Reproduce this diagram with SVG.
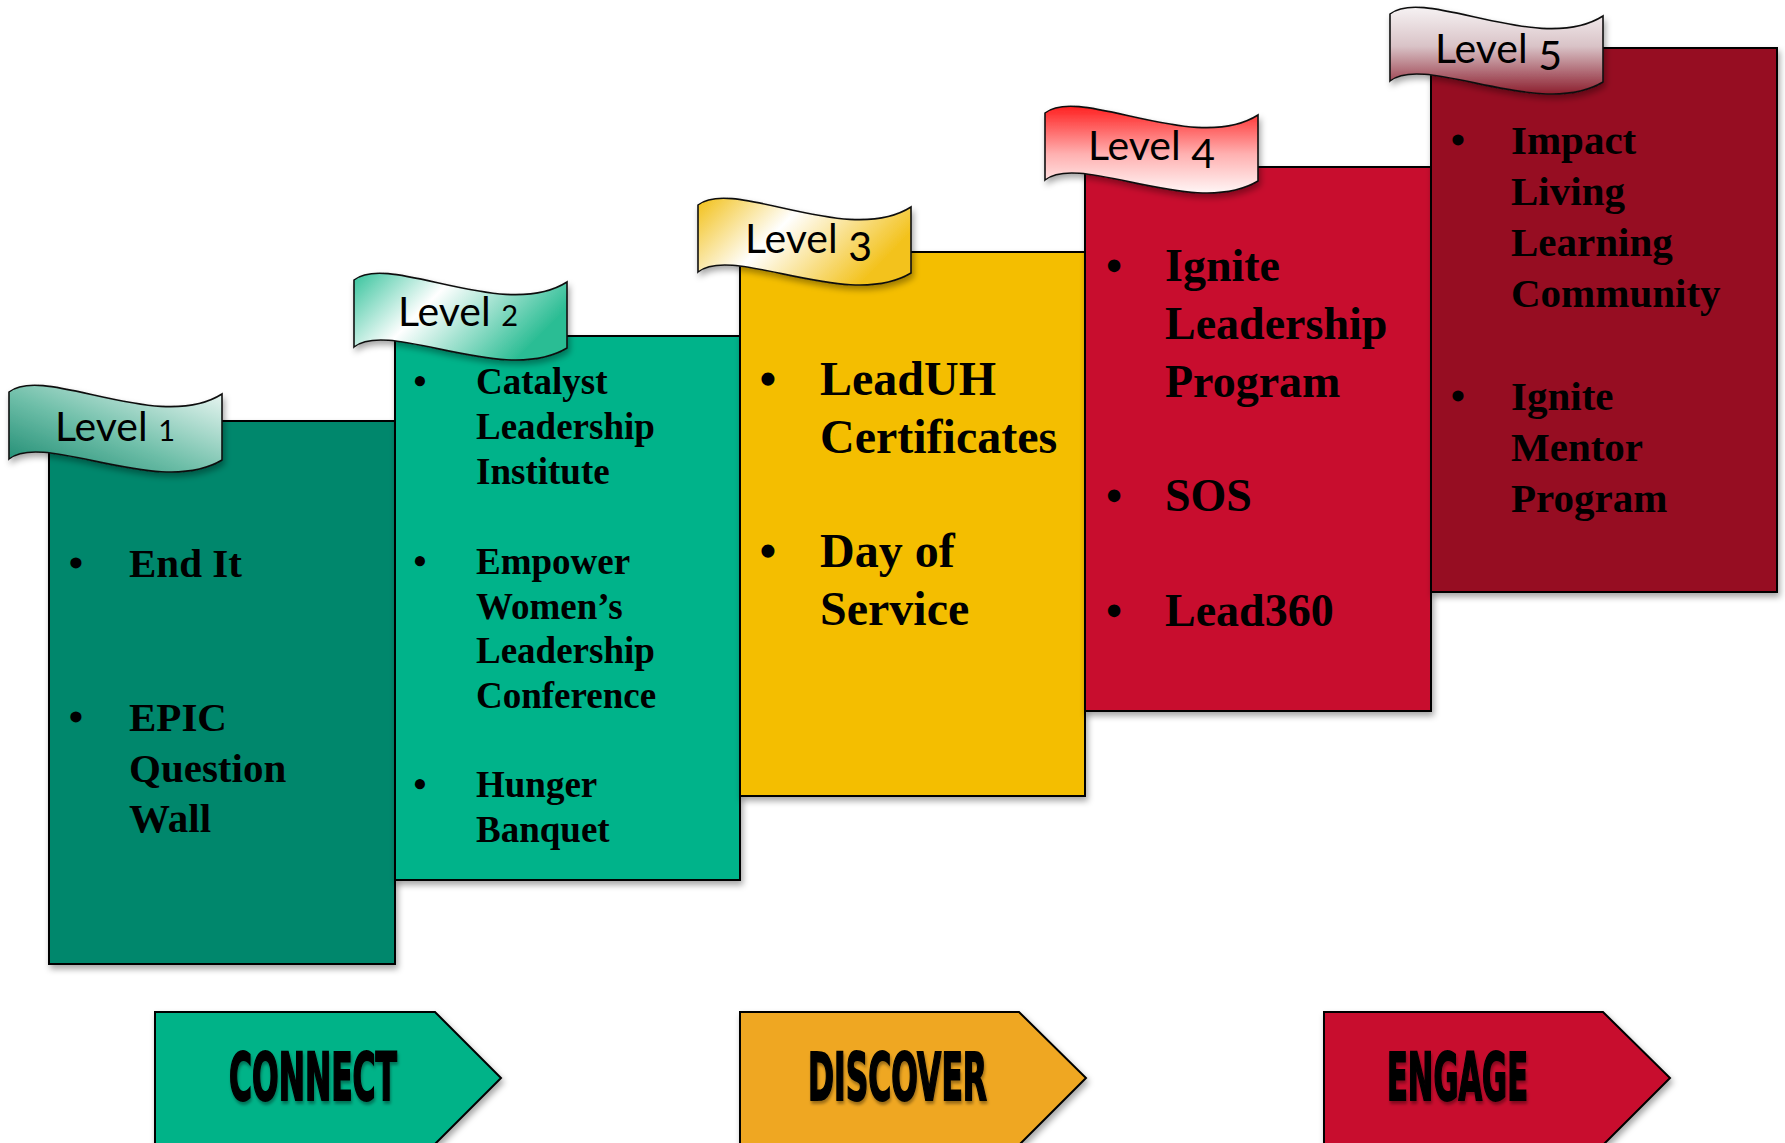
<svg xmlns="http://www.w3.org/2000/svg" width="1785" height="1143" viewBox="0 0 1785 1143">
  <defs>
    <style>
      .box { stroke: #000; stroke-width: 2; filter: url(#shadow); }
      .flag { stroke: #111; stroke-width: 1.6; filter: url(#shadow); }
      .flagText { font-family: Lato, "Open Sans", "DejaVu Sans", sans-serif; font-size: 41px; fill: #000; }
      .item { font-family: "Liberation Serif", "Times New Roman", serif; font-weight: bold; fill: #000; }
      .s42 { font-size: 41px; }
      .s37 { font-size: 37px; }
      .s48 { font-size: 48px; }
      .s47 { font-size: 46px; }
      .stage { stroke: #000; stroke-width: 2; filter: url(#shadow); }
      .stageText { font-family: "Liberation Sans Narrow", "DejaVu Sans Condensed", "Liberation Sans", sans-serif; font-weight: bold; font-size: 66px; fill: #000; stroke: #000; stroke-width: 2; filter: url(#textShadow); }
    </style>
    <filter id="shadow" x="-10%" y="-10%" width="125%" height="130%">
      <feDropShadow dx="2" dy="4" stdDeviation="3" flood-color="#000" flood-opacity="0.35"/>
    </filter>
    <filter id="textShadow" x="-10%" y="-10%" width="125%" height="140%">
      <feDropShadow dx="1" dy="3" stdDeviation="1.5" flood-color="#000" flood-opacity="0.35"/>
    </filter>
    <!-- waving banner, 213 wide, 67 tall -->
    <path id="banner" d="M0,0 C35,-28 150,42 213,2 L213,68 C150,106 35,39 0,67 Z"/>
    <linearGradient id="g1" x1="0" y1="1" x2="1" y2="0">
      <stop offset="0" stop-color="#17876d"/>
      <stop offset="0.45" stop-color="#6fbfa9"/>
      <stop offset="1" stop-color="#f2faf7"/>
    </linearGradient>
    <linearGradient id="g2" x1="0" y1="0" x2="1" y2="0.4">
      <stop offset="0" stop-color="#36c39c"/>
      <stop offset="0.42" stop-color="#ffffff"/>
      <stop offset="1" stop-color="#2bbd94"/>
    </linearGradient>
    <linearGradient id="g3" x1="0" y1="0" x2="1" y2="0.4">
      <stop offset="0" stop-color="#f2c016"/>
      <stop offset="0.45" stop-color="#ffffff"/>
      <stop offset="1" stop-color="#f3c21c"/>
    </linearGradient>
    <linearGradient id="g4" x1="0" y1="0" x2="0" y2="1">
      <stop offset="0" stop-color="#ff2020"/>
      <stop offset="0.55" stop-color="#ffb0b0"/>
      <stop offset="1" stop-color="#fff6f6"/>
    </linearGradient>
    <linearGradient id="g5" x1="0" y1="0" x2="0" y2="1">
      <stop offset="0" stop-color="#f6f2f3"/>
      <stop offset="0.45" stop-color="#d9c3c7"/>
      <stop offset="1" stop-color="#8c1e2e"/>
    </linearGradient>
  </defs>

  <rect width="1785" height="1143" fill="#fff"/>

  <g id="connectors"/>

  <g id="level1">
    <rect class="box" x="49" y="421" width="346" height="543" fill="#00876c"/>
    <use href="#banner" class="flag" x="9" y="392" fill="url(#g1)"/>
    <text class="flagText" x="55" y="441">Level <tspan font-size="29">1</tspan></text>
    <g class="item s42">
      <text x="76" y="577" text-anchor="middle">•</text>
      <text x="129" y="577">End It</text>
      <text x="76" y="731" text-anchor="middle">•</text>
      <text x="129" y="731">EPIC</text>
      <text x="129" y="782">Question</text>
      <text x="129" y="832">Wall</text>
    </g>
  </g>

  <g id="level2">
    <rect class="box" x="395" y="336" width="345" height="544" fill="#00b38a"/>
    <use href="#banner" class="flag" x="354" y="280" fill="url(#g2)"/>
    <text class="flagText" x="398" y="326">Level <tspan font-size="29">2</tspan></text>
    <g class="item s37">
      <text x="420" y="394" text-anchor="middle">•</text>
      <text x="476" y="394">Catalyst</text>
      <text x="476" y="439">Leadership</text>
      <text x="476" y="484">Institute</text>
      <text x="420" y="574" text-anchor="middle">•</text>
      <text x="476" y="574">Empower</text>
      <text x="476" y="619">Women’s</text>
      <text x="476" y="663">Leadership</text>
      <text x="476" y="708">Conference</text>
      <text x="420" y="797" text-anchor="middle">•</text>
      <text x="476" y="797">Hunger</text>
      <text x="476" y="842">Banquet</text>
    </g>
  </g>

  <g id="level3">
    <rect class="box" x="740" y="252" width="345" height="544" fill="#f4be00"/>
    <use href="#banner" class="flag" x="698" y="205" fill="url(#g3)"/>
    <text class="flagText" x="745" y="253">Level <tspan font-size="41" dy="8">3</tspan></text>
    <g class="item s48">
      <text x="768" y="395" text-anchor="middle">•</text>
      <text x="820" y="395">LeadUH</text>
      <text x="820" y="453">Certificates</text>
      <text x="768" y="567" text-anchor="middle">•</text>
      <text x="820" y="567">Day of</text>
      <text x="820" y="625">Service</text>
    </g>
  </g>

  <g id="level4">
    <rect class="box" x="1085" y="167" width="346" height="544" fill="#c8102e"/>
    <use href="#banner" class="flag" x="1045" y="113" fill="url(#g4)"/>
    <text class="flagText" x="1088" y="160">Level <tspan font-size="41" dy="8">4</tspan></text>
    <g class="item s47">
      <text x="1114" y="281" text-anchor="middle">•</text>
      <text x="1165" y="281">Ignite</text>
      <text x="1165" y="339">Leadership</text>
      <text x="1165" y="397">Program</text>
      <text x="1114" y="511" text-anchor="middle">•</text>
      <text x="1165" y="511">SOS</text>
      <text x="1114" y="626" text-anchor="middle">•</text>
      <text x="1165" y="626">Lead360</text>
    </g>
  </g>

  <g id="level5">
    <rect class="box" x="1431" y="48" width="346" height="544" fill="#960c22"/>
    <use href="#banner" class="flag" x="1390" y="14" fill="url(#g5)"/>
    <text class="flagText" x="1435" y="63">Level <tspan font-size="41" dy="7">5</tspan></text>
    <g class="item s42">
      <text x="1458" y="154" text-anchor="middle">•</text>
      <text x="1511" y="154">Impact</text>
      <text x="1511" y="205">Living</text>
      <text x="1511" y="256">Learning</text>
      <text x="1511" y="307">Community</text>
      <text x="1458" y="410" text-anchor="middle">•</text>
      <text x="1511" y="410">Ignite</text>
      <text x="1511" y="461">Mentor</text>
      <text x="1511" y="512">Program</text>
    </g>
  </g>

  <g id="connect">
    <polygon class="stage" points="155,1012 435,1012 501,1078 430,1149 155,1149" fill="#00b388"/>
    <text class="stageText" x="229" y="1100" textLength="168" lengthAdjust="spacingAndGlyphs">CONNECT</text>
  </g>
  <g id="discover">
    <polygon class="stage" points="740,1012 1019,1012 1086,1078 1015,1149 740,1149" fill="#efa722"/>
    <text class="stageText" x="808" y="1100" textLength="179" lengthAdjust="spacingAndGlyphs">DISCOVER</text>
  </g>
  <g id="engage">
    <polygon class="stage" points="1324,1012 1603,1012 1670,1078 1599,1149 1324,1149" fill="#c8102e"/>
    <text class="stageText" x="1387" y="1100" textLength="141" lengthAdjust="spacingAndGlyphs">ENGAGE</text>
  </g>
</svg>
